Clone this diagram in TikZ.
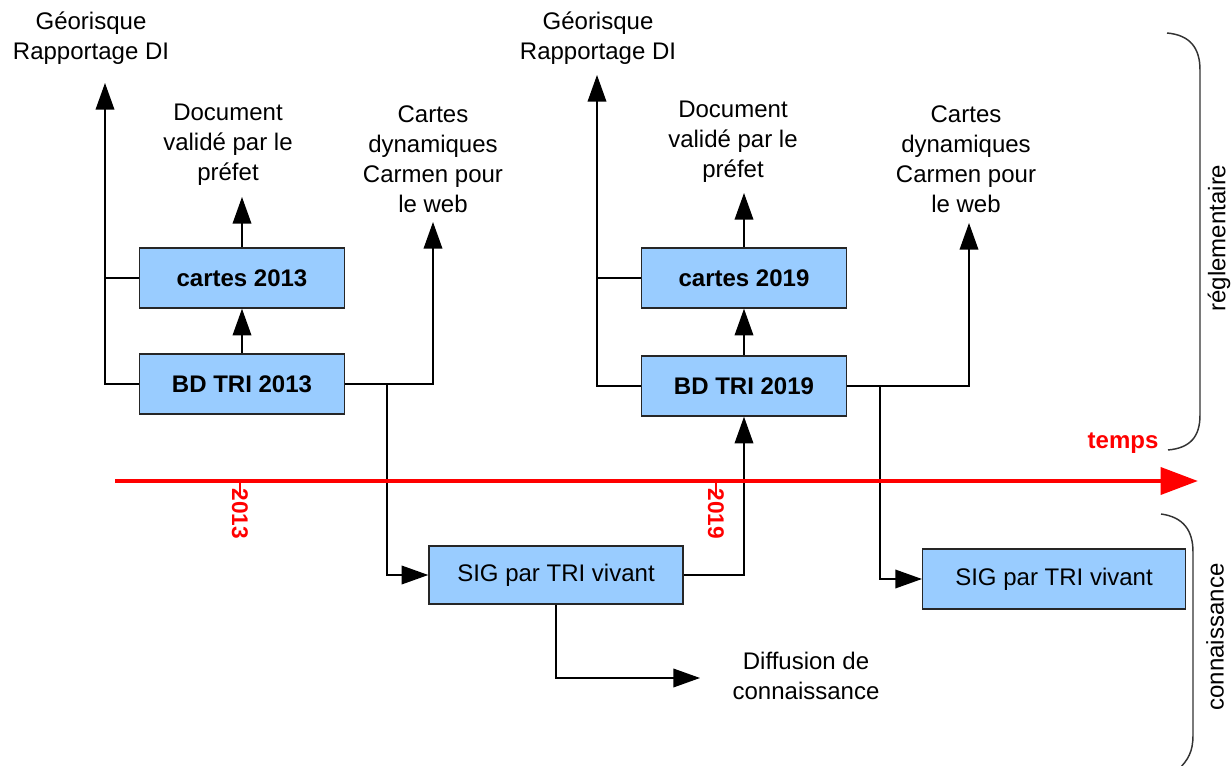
\documentclass[tikz,border=0pt]{standalone}
\usepackage{fontspec}
\setmainfont{Liberation Sans}
\usetikzlibrary{arrows.meta}
\definecolor{boxblue}{RGB}{153,204,255}

\begin{document}
\begin{tikzpicture}[x=0.75pt,y=-0.75pt,
    every node/.style={font=\fontsize{18}{22.5}\selectfont},
    box/.style={draw=black!85,line width=1.1pt,fill=boxblue,minimum width=154pt,minimum height=45pt,inner sep=0pt},
    lbl/.style={align=center,inner sep=0pt},
    arr/.style={-{Triangle[length=20pt,width=14pt]},line width=1.1pt},
    line/.style={line width=1.1pt}]
    \useasboundingbox (0,0) rectangle (1232,766);
    \node[box,font=\bfseries\fontsize{18}{22.5}\selectfont] (c13) at (242,278) {cartes 2013};
    \node[box,font=\bfseries\fontsize{18}{22.5}\selectfont] (b13) at (242,384) {BD TRI 2013};
    \node[box,font=\bfseries\fontsize{18}{22.5}\selectfont] (c19) at (744,278) {cartes 2019};
    \node[box,font=\bfseries\fontsize{18}{22.5}\selectfont] (b19) at (744,386) {BD TRI 2019};
    \node[box,minimum width=190.5pt,minimum height=43.5pt] (sig1) at (556,575) {SIG par TRI vivant};
    \node[box,minimum width=197pt] (sig2) at (1054,579) {SIG par TRI vivant};
    \node[lbl] (geo13) at (91,38) {Géorisque\\Rapportage DI};
    \node[lbl] (doc13) at (228,145) {Document\\validé par le\\préfet};
    \node[lbl] (web13) at (433,159) {Cartes\\dynamiques\\Carmen pour\\le web};
    \node[lbl] (geo19) at (598,38) {Géorisque\\Rapportage DI};
    \node[lbl] (doc19) at (733,142) {Document\\validé par le\\préfet};
    \node[lbl] (web19) at (966,159) {Cartes\\dynamiques\\Carmen pour\\le web};
    \node[lbl] (dif) at (806,676) {Diffusion de\\connaissance};
    \coordinate (g13) at (105,83);
    \coordinate (d13) at (242,197);
    \coordinate (w13) at (433,222);
    \coordinate (j13) at (387,384);
    \coordinate (g19) at (597,75);
    \coordinate (d19) at (744,193);
    \coordinate (w19) at (969,223);
    \coordinate (j19) at (880,386);
    \coordinate (f1) at (700,678);
    \draw[arr] (b13) -- (c13);
    \draw[arr] (c13.north) -- (d13);
    \draw[arr] (b13.west) -| (g13);
    \draw[line] (c13.west) -- (c13.west -| g13);
    \draw[arr] (b13.east) -| (w13);
    \draw[arr] (j13) |- (sig1.west);
    \draw[arr] (sig1.east) -| (b19.south);
    \draw[arr] (sig1.south) |- (f1);
    \draw[arr] (b19) -- (c19);
    \draw[arr] (c19.north) -- (d19);
    \draw[arr] (b19.west) -| (g19);
    \draw[line] (c19.west) -- (c19.west -| g19);
    \draw[arr] (b19.east) -| (w19);
    \draw[arr] (j19) |- (sig2.west);
    % axe du temps
    \coordinate (t0) at (115,481);
    \coordinate (t1) at (1198,481);
    \draw[red,line width=3.5pt,-{Triangle[length=28pt,width=20pt]}] (t0) -- (t1);
    \node[red,font=\bfseries\fontsize{18}{22.5}\selectfont] (temps) at (1123,443) {temps};
    \foreach \x/\an in {240/2013,716/2019}{
      \draw[red,line width=1.5pt] (\x,481) -- (\x,497);
      \node[red,rotate=-90,font=\bfseries\fontsize{17}{22.5}\selectfont] (y\an) at (\x,514) {\an};
    }
    % accolades
    \draw[line width=1.1pt,black!80] (1167,33) .. controls (1190,35) and (1200,48) .. (1200,70) -- (1200,415) .. controls (1200,437) and (1190,448) .. (1168,450);
    \draw[line width=1.1pt,black!80] (1161,514) .. controls (1183,517) and (1193,530) .. (1193,552) -- (1193,735) .. controls (1193,752) and (1188,760) .. (1178,770);
    \node[rotate=90] (reg) at (1219,238) {réglementaire};
    \node[rotate=90] (con) at (1215,637) {connaissance};
\end{tikzpicture}
\end{document}
